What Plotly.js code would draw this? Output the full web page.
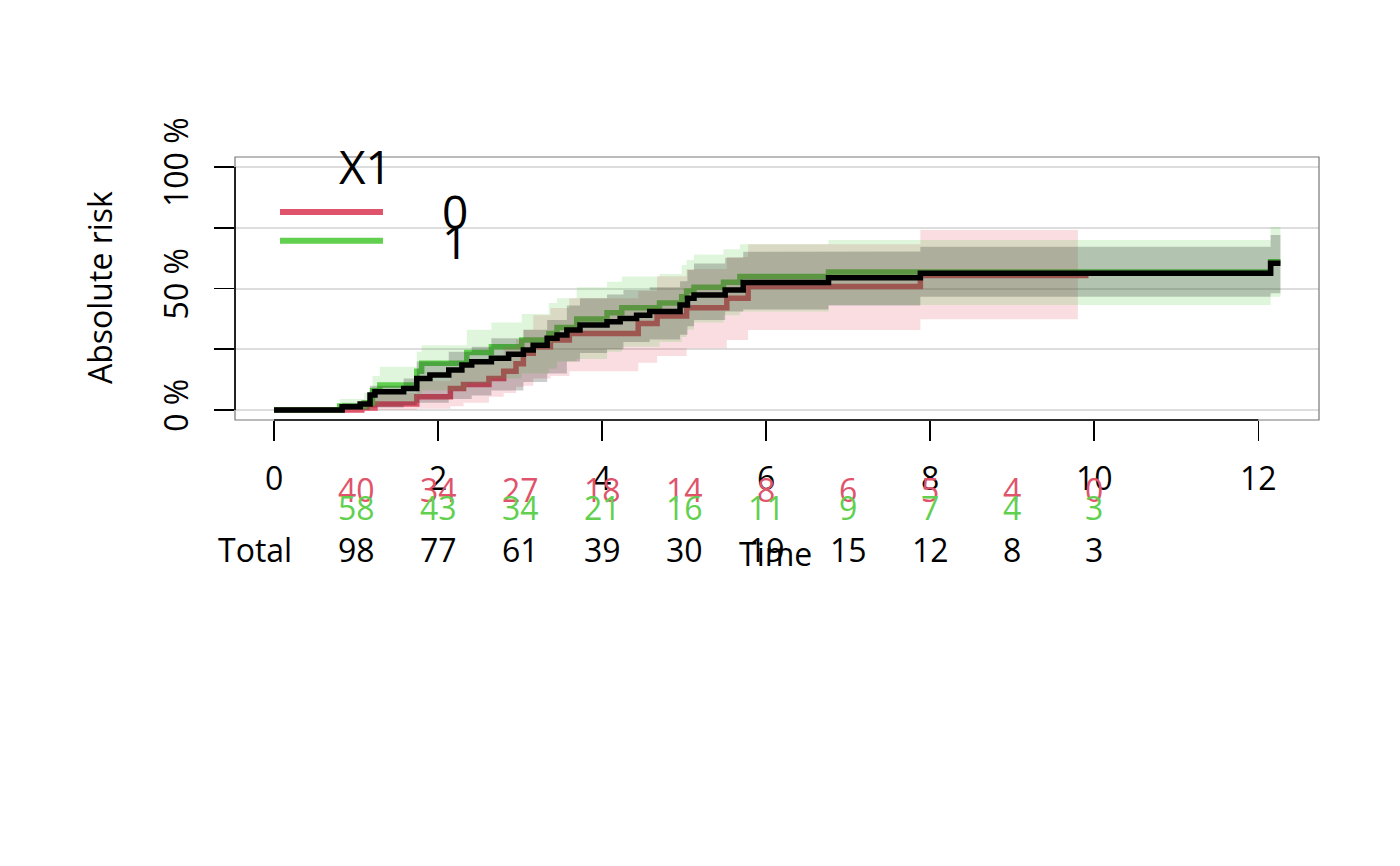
<!DOCTYPE html>
<html>
<head>
<meta charset="utf-8">
<script src="https://cdn.plot.ly/plotly-3.0.1.min.js"></script>
<style>
  html, body { margin: 0; padding: 0; background: white; }
  #chart { width: 1400px; height: 866px; }
</style>
</head>
<body>
<div id="chart"></div>
<script>
// step curves (time, absolute risk)
const timesAll = [0, 0.83, 1.05, 1.17, 1.23, 1.58, 1.74, 1.9, 2.13, 2.29, 2.41, 2.65, 2.86, 3.04, 3.16, 3.33, 3.45, 3.57, 3.73, 4.06, 4.22, 4.42, 4.58, 4.95, 5.04, 5.12, 5.5, 5.72, 6.76, 7.88, 12.15];
const riskAll = [0, 0.014, 0.025, 0.062, 0.075, 0.089, 0.13, 0.144, 0.165, 0.185, 0.199, 0.213, 0.23, 0.247, 0.267, 0.295, 0.309, 0.329, 0.35, 0.363, 0.377, 0.39, 0.405, 0.432, 0.46, 0.473, 0.494, 0.525, 0.544, 0.563, 0.604];
const endAll = 12.27;

// overall confidence band (grey)
const bandTimesAll = [0, 0.83, 1.17, 1.58, 1.74, 2.13, 2.41, 2.65, 3.04, 3.33, 3.57, 3.73, 4.06, 4.26, 4.58, 4.95, 5.04, 5.12, 5.5, 5.72, 6.76, 7.88, 12.15];
const lowerAll = [0, 0, 0.01, 0.02, 0.03, 0.045, 0.06, 0.08, 0.115, 0.15, 0.2, 0.235, 0.25, 0.28, 0.29, 0.31, 0.345, 0.37, 0.405, 0.414, 0.43, 0.466, 0.48];
const upperAll = [0, 0.03, 0.1, 0.13, 0.2, 0.24, 0.26, 0.295, 0.33, 0.37, 0.43, 0.46, 0.475, 0.494, 0.505, 0.53, 0.576, 0.603, 0.627, 0.651, 0.652, 0.672, 0.72];

// X1 = 1 (green)
const times1 = [0, 0.8, 1.1, 1.2, 1.29, 1.74, 1.8, 2.35, 2.65, 3.02, 3.35, 3.45, 3.69, 4.06, 4.24, 4.7, 4.97, 5.03, 5.12, 5.48, 5.68, 6.76, 12.15];
const risk1 = [0, 0.017, 0.03, 0.08, 0.103, 0.16, 0.192, 0.237, 0.26, 0.288, 0.315, 0.34, 0.375, 0.4, 0.421, 0.44, 0.466, 0.49, 0.505, 0.526, 0.549, 0.568, 0.61];
const lower1 = [0, 0, 0, 0.02, 0.035, 0.06, 0.08, 0.11, 0.13, 0.15, 0.17, 0.2, 0.21, 0.24, 0.26, 0.28, 0.3, 0.33, 0.36, 0.39, 0.405, 0.432, 0.466];
const upper1 = [0, 0.045, 0.07, 0.14, 0.178, 0.24, 0.267, 0.33, 0.36, 0.395, 0.44, 0.46, 0.505, 0.528, 0.549, 0.56, 0.597, 0.617, 0.64, 0.661, 0.682, 0.70, 0.753];
const end1 = 12.27;

// X1 = 0 (red)
const times0 = [0, 1.07, 1.23, 1.74, 2.15, 2.31, 2.62, 2.8, 2.95, 3.04, 3.16, 3.37, 3.6, 4.44, 4.67, 5.03, 5.52, 5.78, 7.88];
const risk0 = [0, 0.008, 0.025, 0.055, 0.089, 0.105, 0.13, 0.16, 0.19, 0.234, 0.26, 0.288, 0.315, 0.356, 0.387, 0.421, 0.46, 0.508, 0.553];
const lower0 = [0, 0, 0, 0.005, 0.016, 0.03, 0.055, 0.07, 0.096, 0.1, 0.13, 0.14, 0.16, 0.195, 0.222, 0.254, 0.288, 0.329, 0.373];
const upper0 = [0, 0.04, 0.07, 0.12, 0.17, 0.19, 0.22, 0.26, 0.29, 0.33, 0.39, 0.42, 0.46, 0.49, 0.55, 0.58, 0.63, 0.682, 0.741];
const end0 = 9.93;
const bandEnd0 = 9.8;

// numbers at risk table
const riskTimes = [1, 2, 3, 4, 5, 6, 7, 8, 9, 10];
const atRisk0 = [40, 34, 27, 18, 14, 8, 6, 5, 4, 0];
const atRisk1 = [58, 43, 34, 21, 16, 11, 9, 7, 4, 3];
const atRiskTotal = [98, 77, 61, 39, 30, 19, 15, 12, 8, 3];

const xTicks = [0, 2, 4, 6, 8, 10, 12];
const yTicks = [0, 0.25, 0.5, 0.75, 1];
const yTickText = ['0 %', '', '50 %', '', '100 %'];
const groupLabels = ['0', '1'];

const red = '#DF536B';
const green = '#61D04F';
const FONT = 'Open Sans, sans-serif';
const FS = 32;

// turn a step function into explicit hv vertices
function stepXY(t, v, tEnd) {
    const x = [], y = [];
    for (let i = 0; i < t.length; i++) {
        const next = i + 1 < t.length ? t[i + 1] : tEnd;
        x.push(t[i], next);
        y.push(v[i], v[i]);
    }
    return { x, y };
}

function band(t, lo, hi, tEnd, color) {
    const up = stepXY(t, hi, tEnd);
    const dn = stepXY(t, lo, tEnd);
    return {
        x: up.x.concat(dn.x.slice().reverse()),
        y: up.y.concat(dn.y.slice().reverse()),
        type: 'scatter', mode: 'lines', fill: 'toself',
        fillcolor: color, line: { width: 0 }, hoverinfo: 'skip'
    };
}

function curve(t, v, tEnd, color) {
    return {
        x: t.concat([tEnd]), y: v.concat([v[v.length - 1]]),
        type: 'scatter', mode: 'lines',
        line: { color: color, width: 5.5, shape: 'hv' }
    };
}

const traces = [
    curve(times0, risk0, end0, red),
    curve(times1, risk1, end1, green),
    band(times0, lower0, upper0, bandEnd0, 'rgba(223,83,107,0.2)'),
    band(times1, lower1, upper1, end1, 'rgba(97,208,79,0.2)'),
    band(bandTimesAll, lowerAll, upperAll, endAll, 'rgba(0,0,0,0.2)'),
    curve(timesAll, riskAll, endAll, 'black')
];

function label(x, y, text, opts) {
    return Object.assign({
        x: x, y: y, xref: 'paper', yref: 'paper', text: text, showarrow: false,
        xanchor: 'center', yanchor: 'middle', font: { size: FS, color: 'black' }
    }, opts || {});
}

// paper y of the table rows
const rowY = { g0: -0.266, g1: -0.331, total: -0.494 };
const annotations = [];
riskTimes.forEach((t, i) => {
    annotations.push(label(t, rowY.g0, String(atRisk0[i]), { xref: 'x', font: { size: FS, color: red } }));
    annotations.push(label(t, rowY.g1, String(atRisk1[i]), { xref: 'x', font: { size: FS, color: green } }));
    annotations.push(label(t, rowY.total, String(atRiskTotal[i]), { xref: 'x' }));
});
annotations.push(label(0.0185, rowY.total, 'Total'));
annotations.push(label(0.499, -0.506, 'Time'));
annotations.push(label(-0.1245, 0.502, 'Absolute risk', { textangle: -90 }));

// legend drawn by hand like the original
annotations.push(label(0.12, 0.966, 'X1', { font: { size: 46, color: 'black' } }));
annotations.push(label(0.203, 0.795, groupLabels[0], { font: { size: 46, color: 'black' } }));
annotations.push(label(0.203, 0.681, groupLabels[1], { font: { size: 46, color: 'black' } }));

const shapes = [
    { type: 'rect', xref: 'paper', yref: 'paper', x0: 0, x1: 1, y0: 0, y1: 1, line: { color: '#777', width: 1.2 } },
    { type: 'line', xref: 'x', yref: 'paper', x0: xTicks[0], x1: xTicks[xTicks.length - 1], y0: 0, y1: 0, line: { color: 'black', width: 1.6 } },
    { type: 'line', xref: 'paper', yref: 'y', x0: 0, x1: 0, y0: yTicks[0], y1: yTicks[yTicks.length - 1], line: { color: 'black', width: 1.6 } },
    { type: 'line', xref: 'paper', yref: 'paper', x0: 0.0415, x1: 0.1365, y0: 0.791, y1: 0.791, line: { color: red, width: 6 } },
    { type: 'line', xref: 'paper', yref: 'paper', x0: 0.0415, x1: 0.1365, y0: 0.682, y1: 0.682, line: { color: green, width: 6 } }
];

const layout = {
    width: 1400, height: 866,
    paper_bgcolor: 'white', plot_bgcolor: 'white',
    margin: { l: 235, r: 81, t: 157, b: 446 },
    font: { family: FONT, size: FS, color: 'black' },
    showlegend: false,
    xaxis: {
        range: [-0.476, 12.74], showgrid: false, zeroline: false, showline: false,
        tickvals: xTicks, ticks: 'outside', ticklen: 20, tickwidth: 1.6, tickcolor: 'black',
        ticklabelstandoff: 11, tickfont: { size: FS }
    },
    yaxis: {
        range: [-0.041, 1.041], zeroline: false, showline: false,
        tickvals: yTicks, ticktext: yTickText, tickangle: -90,
        ticks: 'outside', ticklen: 20, tickwidth: 1.6, tickcolor: 'black',
        ticklabelstandoff: 13, tickfont: { size: FS },
        showgrid: true, gridcolor: '#dddddd', gridwidth: 2
    },
    annotations: annotations,
    shapes: shapes
};

Plotly.newPlot('chart', traces, layout, { displayModeBar: false, staticPlot: true });
</script>
</body>
</html>
